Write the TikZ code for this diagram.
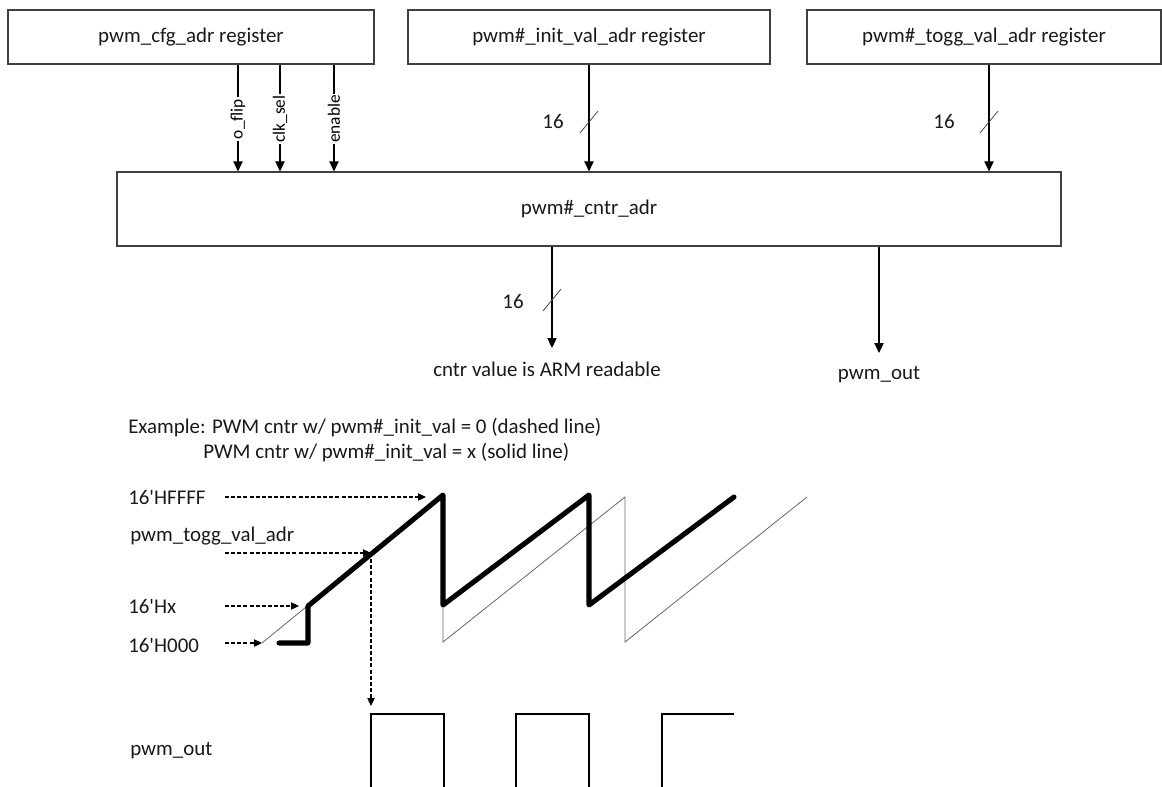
\documentclass[tikz,border=0pt]{standalone}
\usepackage{fontspec}
\setmainfont{Carlito}[Ligatures=TeXOff]
\usetikzlibrary{arrows.meta}
\begin{document}
\begin{tikzpicture}[x=0.75pt,y=-0.75pt,
  txt/.style={font=\fontsize{15.7}{18}\selectfont, inner sep=0pt, text=black!90},
  box/.style={draw=black!75, line width=0.9pt, inner sep=0pt, txt},
  sig/.style={font=\fontsize{13}{15}\selectfont, rotate=90, fill=white, inner sep=1.2pt},
  arr/.style={line width=0.8pt, -{Triangle[length=7.5pt,width=7pt]}},
  darr/.style={line width=0.8pt, dash pattern=on 3pt off 1.6pt, -{Triangle[length=6pt,width=5.5pt]}},
  bus/.style={line width=0.6pt, black!70},
  thick saw/.style={line width=3.8pt, line join=round, line cap=round},
  thin saw/.style={line width=0.6pt, black!60},
  wave/.style={line width=0.8pt}
]
\useasboundingbox (0,0) rectangle (1162,786);

% register boxes
\node[box, minimum width=274.5pt, minimum height=40.5pt] (cfg) at (191,37) {pwm\_cfg\_adr register};
\node[box, minimum width=271.5pt, minimum height=40.5pt] (init) at (589,37) {pwm\#\_init\_val\_adr register};
\node[box, minimum width=265.5pt, minimum height=40.5pt] (togg) at (984,37) {pwm\#\_togg\_val\_adr register};
\node[box, minimum width=708pt, minimum height=55.5pt] (cntr) at (589,209) {pwm\#\_cntr\_adr};

% config signals
\coordinate (xa) at (238,0);
\coordinate (xb) at (280,0);
\coordinate (xc) at (334,0);
\draw[arr] (cfg.south -| xa) -- (cntr.north -| xa);
\draw[arr] (cfg.south -| xb) -- (cntr.north -| xb);
\draw[arr] (cfg.south -| xc) -- (cntr.north -| xc);
\node[sig] (oflip) at (238,119) {o\_flip};
\node[sig] (clksel) at (280,119) {clk\_sel};
\node[sig] (enable) at (334,119) {enable};

% 16-bit buses in
\coordinate (xi) at (589,0);
\coordinate (xt) at (989,0);
\draw[arr] (init.south -| xi) -- (cntr.north -| xi);
\draw[arr] (togg.south -| xt) -- (cntr.north -| xt);
\draw[bus] (580,133) -- (598,111);
\draw[bus] (980,133) -- (998,111);
\node[txt] (w1) at (553,122) {16};
\node[txt] (w2) at (944,122) {16};

% outputs
\coordinate (xo1) at (552,0);
\coordinate (xo2) at (879,0);
\coordinate (o1) at (552,348);
\coordinate (o2) at (879,353);
\draw[arr] (cntr.south -| xo1) -- (o1);
\draw[arr] (cntr.south -| xo2) -- (o2);
\draw[bus] (543,311) -- (561,289);
\node[txt] (w3) at (513,301) {16};
\node[txt] (readable) at (547,369) {cntr value is ARM readable};
\node[txt] (pwmout) at (879,375) {pwm\_out};

% example text
\node[txt, anchor=west] (ex1) at (128,428) {Example: PWM cntr w/ pwm\#\_init\_val = 0 (dashed line)};
\node[txt, anchor=west] (ex2) at (203,453) {PWM cntr w/ pwm\#\_init\_val = x (solid line)};

% level labels
\node[txt, anchor=west] (lffff) at (128,497) {16'HFFFF};
\node[txt, anchor=west] (ltogg) at (130,536) {pwm\_togg\_val\_adr};
\node[txt, anchor=west] (lx) at (128,606) {16'Hx};
\node[txt, anchor=west] (l000) at (128,645) {16'H000};
\node[txt, anchor=west] (lout) at (130,751) {pwm\_out};

% dashed pointers
\coordinate (s1) at (225,497);
\coordinate (e1) at (426,497);
\coordinate (s2) at (225,553);
\coordinate (e2) at (371,553);
\coordinate (s3) at (225,606);
\coordinate (e3) at (299,606);
\coordinate (s4) at (225,643);
\coordinate (e4) at (262,643);
\coordinate (e5) at (371,706);
\draw[darr] (s1) -- (e1);
\draw[darr] (s2) -- (e2);
\draw[darr] (s3) -- (e3);
\draw[darr] (s4) -- (e4);
\draw[darr] (e2) -- (e5);

% dashed-case counter (thin)
\draw[thin saw] (262,643) -- (443,495) -- (443,642) -- (625,497) -- (625,642) -- (807,497);

% solid-case counter (thick)
\draw[thick saw] (279,643) -- (308,643) -- (308,606) -- (443,495) -- (443,605) -- (589,495) -- (589,605) -- (734,497);

% pwm_out waveform
\draw[wave] (371,787) -- (371,714) -- (444,714) -- (444,787);
\draw[wave] (516,787) -- (516,714) -- (589,714) -- (589,787);
\draw[wave] (662,787) -- (662,714) -- (734,714);
\end{tikzpicture}
\end{document}
